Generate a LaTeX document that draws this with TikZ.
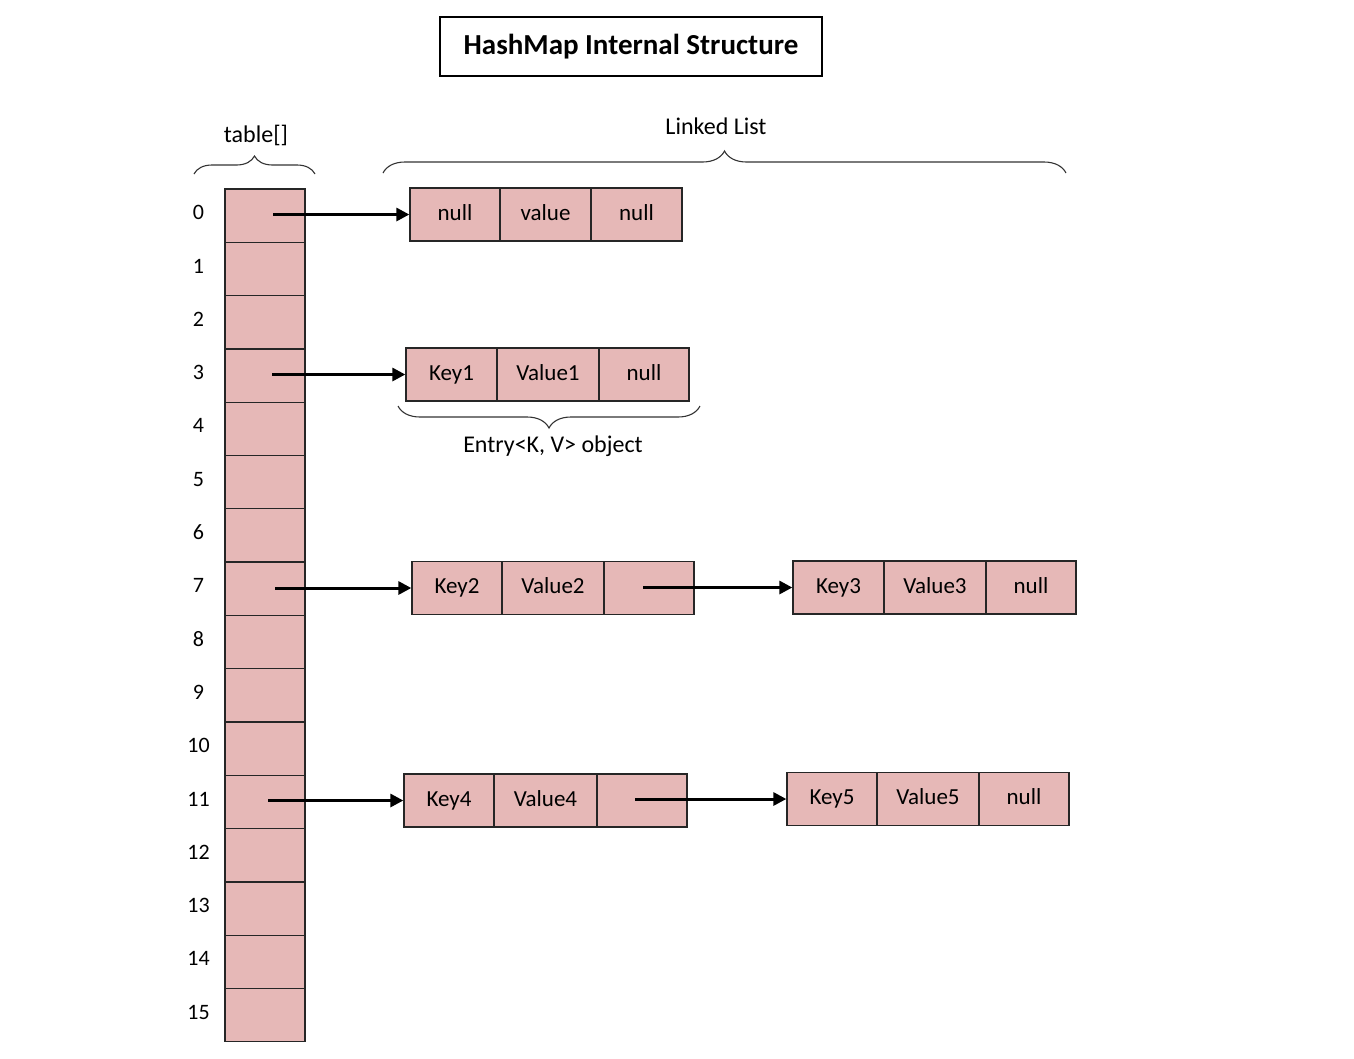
\documentclass[tikz,border=0pt]{standalone}
\usepackage{fontspec}
\setmainfont{Carlito}
\usetikzlibrary{arrows.meta,decorations.pathreplacing,calc}
\definecolor{cellpink}{RGB}{230,184,183}
\begin{document}
\begin{tikzpicture}[x=1pt,y=-1pt,
  cell/.style={draw=black!85,line width=1.3pt,fill=cellpink,inner sep=0pt,minimum height=53pt,text height=16pt,text depth=5pt,font=\fontsize{23}{27}\selectfont},
  tcell/.style={cell,minimum width=80pt,minimum height=53.3pt},
  idx/.style={font=\fontsize{22}{26}\selectfont,inner sep=0pt},
  lbl/.style={font=\fontsize{24}{28}\selectfont,inner sep=0pt},
  ptr/.style={line width=3pt,-{Triangle[length=13pt,width=13pt]}},
  brc/.style={decorate,decoration={brace,amplitude=#1},line width=1.1pt,draw=black!80}]
\useasboundingbox (0,0) rectangle (1354,1058);
% title
\node[draw,line width=1.3pt,minimum width=382pt,minimum height=59pt,inner sep=0pt,font=\fontsize{29}{34}\selectfont\bfseries] (title) at (631,46.5) {HashMap Internal Structure};
% table
\foreach \i in {0,...,15}{
  \node[tcell] (t\i) at (265,{189+53.3*(\i+0.5)}) {};
  \node[idx] (n\i) at (198.5,{189+53.3*(\i+0.5)-3}) {\i};
}
% labels and braces
\node[lbl] (tablelbl) at (256,135) {table[]};
\draw[brc=18pt] (194,174) -- (315,174);
\node[lbl] (lllbl) at (716,126) {Linked List};
\draw[brc=22pt] (383,173) -- (1066,173);
% row 0
\node[cell,minimum width=90pt] (a1) at (455,214.5) {null};
\node[cell,minimum width=91pt] (a2) at (545.5,214.5) {value};
\node[cell,minimum width=91pt] (a3) at (636.5,214.5) {null};
\draw[ptr] ($(t0.center |- a1.west)+(8,0)$) -- (a1.west);
% row 3
\node[cell,minimum width=91pt] (b1) at (451.5,374.5) {Key1};
\node[cell,minimum width=102pt] (b2) at (548,374.5) {Value1};
\node[cell,minimum width=90pt] (b3) at (644,374.5) {null};
\draw[ptr] ($(t3.center |- b1.west)+(7,0)$) -- (b1.west);
\draw[brc=22pt,decoration={mirror}] (398,406) -- (700,406);
\node[lbl] (entrylbl) at (553,446) {Entry<K, V> object};
% row 7
\node[cell,minimum width=90pt] (c1) at (457,588) {Key2};
\node[cell,minimum width=102pt] (c2) at (553,588) {Value2};
\node[cell,minimum width=90pt] (c3) at (649,588) {};
\draw[ptr] ($(t7.center |- c1.west)+(10,0)$) -- (c1.west);
\node[cell,minimum width=91pt] (d1) at (838.5,587.5) {Key3};
\node[cell,minimum width=102pt] (d2) at (935,587.5) {Value3};
\node[cell,minimum width=90pt] (d3) at (1031,587.5) {null};
\draw[ptr] ($(c3.center |- d1.west)+(-6,0)$) -- (d1.west);
% row 11
\node[cell,minimum width=90pt] (e1) at (449,800.5) {Key4};
\node[cell,minimum width=103pt] (e2) at (545.5,800.5) {Value4};
\node[cell,minimum width=90pt] (e3) at (642,800.5) {};
\draw[ptr] ($(t11.center |- e1.west)+(3,0)$) -- (e1.west);
\node[cell,minimum width=90pt] (f1) at (832,799) {Key5};
\node[cell,minimum width=102pt] (f2) at (928,799) {Value5};
\node[cell,minimum width=90pt] (f3) at (1024,799) {null};
\draw[ptr] ($(e3.center |- f1.west)+(-7,0)$) -- (f1.west);
\end{tikzpicture}
\end{document}
